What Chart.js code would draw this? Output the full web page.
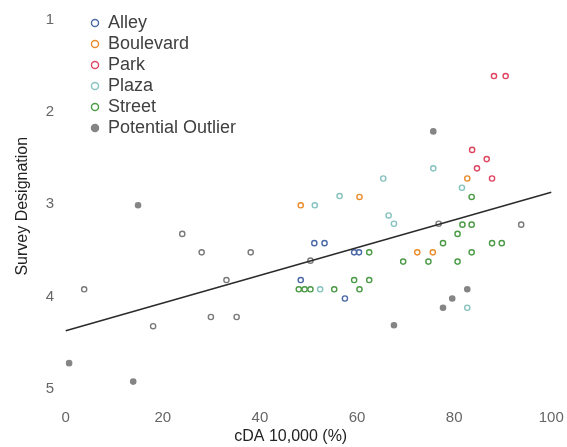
<!DOCTYPE html>
<html>
<head>
    <title>Survey Designation vs cDA</title>
    <script src="https://cdn.jsdelivr.net/npm/chart.js@4.4.1/dist/chart.umd.min.js"></script>
    <style>
        body { margin: 0; background: #fff; }
        #wrap { width: 567px; height: 447px; }
    </style>
</head>
<body>
    <div id="wrap"><canvas id="chart" width="567" height="447"></canvas></div>

    <script>
        // points are [cDA %, survey designation]
        const alley = [[48.4, 3.82], [51.2, 3.42], [53.3, 3.42], [59.4, 3.52], [60.4, 3.52], [57.5, 4.02]];
        const boulevard = [[82.7, 2.72], [48.4, 3.01], [60.5, 2.92], [72.4, 3.52], [75.6, 3.52]];
        const park = [[88.2, 1.61], [90.6, 1.61], [83.7, 2.41], [86.7, 2.51], [84.7, 2.61], [87.8, 2.72]];
        const plaza = [[81.6, 2.82], [51.3, 3.01], [56.4, 2.91], [65.4, 2.72], [66.5, 3.12], [67.6, 3.21],
                       [75.7, 2.61], [52.4, 3.92], [82.7, 4.12]];
        const street = [[62.5, 3.52], [48.0, 3.92], [49.2, 3.92], [50.4, 3.92], [55.3, 3.92], [60.5, 3.92],
                        [59.4, 3.82], [62.5, 3.82], [69.5, 3.62], [83.6, 2.92], [81.7, 3.22], [83.6, 3.22],
                        [80.7, 3.32], [77.7, 3.42], [87.8, 3.42], [89.8, 3.42], [83.6, 3.52], [74.7, 3.62],
                        [80.7, 3.62]];
        const outlier = [[14.9, 3.01], [75.7, 2.21], [0.7, 4.72], [13.9, 4.92], [67.6, 4.31], [82.7, 3.92],
                         [79.6, 4.02], [77.7, 4.12]];
        const other = [[3.8, 3.92], [18.0, 4.32], [24.0, 3.32], [28.0, 3.52], [38.1, 3.52], [33.1, 3.82],
                       [29.9, 4.22], [35.2, 4.22], [93.8, 3.22], [76.8, 3.21], [50.4, 3.61]];
        const fitX = [0, 100];
        const fitY = [4.37, 2.87];
        const xTicks = [0, 20, 40, 60, 80, 100];
        const yTicks = [1, 2, 3, 4, 5];

        const font = 'Liberation Sans, Arial, sans-serif';
        const toXY = arr => arr.map(p => ({x: p[0], y: p[1]}));

        function pointSet(label, data, color, filled) {
            return {
                label: label,
                data: toXY(data),
                pointStyle: 'circle',
                pointRadius: 2.6,
                pointBorderWidth: 1.4,
                pointBorderColor: color,
                pointBackgroundColor: filled ? color : 'rgba(0,0,0,0)',
                borderColor: color,
                backgroundColor: filled ? color : 'rgba(0,0,0,0)'
            };
        }

        // move the legend into the top-left corner of the plot
        const legendNudge = {
            id: 'legendNudge',
            afterLayout(chart) {
                chart.legend.left = 88;
                chart.legend.top = 11;
            }
        };

        new Chart(document.getElementById('chart'), {
            type: 'scatter',
            data: {
                datasets: [
                    {
                        label: 'fit',
                        type: 'line',
                        data: fitX.map((x, i) => ({x: x, y: fitY[i]})),
                        borderColor: '#2b2b2b',
                        borderWidth: 1.6,
                        pointRadius: 0,
                        fill: false
                    },
                    pointSet('other', other, '#7a7a7a', false),
                    pointSet('Alley', alley, '#4a68a8', false),
                    pointSet('Boulevard', boulevard, '#ea8c2c', false),
                    pointSet('Park', park, '#de4560', false),
                    pointSet('Plaza', plaza, '#86c2bf', false),
                    pointSet('Street', street, '#4b9a45', false),
                    pointSet('Potential Outlier', outlier, '#858585', true)
                ]
            },
            options: {
                responsive: false,
                animation: false,
                layout: { padding: { left: 0, right: 6, top: 0, bottom: 0 } },
                plugins: {
                    tooltip: { enabled: false },
                    legend: {
                        position: 'chartArea',
                        align: 'start',
                        labels: {
                            usePointStyle: true,
                            boxWidth: 8,
                            boxHeight: 5,
                            padding: 3,
                            color: '#404040',
                            font: { family: font, size: 18 },
                            filter: item => item.text !== 'fit' && item.text !== 'other'
                        },
                        onClick: null
                    }
                },
                scales: {
                    x: {
                        type: 'linear',
                        min: -2,
                        max: 102,
                        afterBuildTicks: s => { s.ticks = xTicks.map(v => ({value: v})); },
                        afterFit: s => { s.height = 40; },
                        grid: { display: false, drawTicks: false },
                        border: { display: false },
                        ticks: { color: '#666', font: { family: font, size: 15 }, padding: 2 },
                        title: {
                            display: true,
                            // trailing spaces pull the centred title a little left, as in the original
                            text: 'cDA 10,000 (%)\u00a0\u00a0\u00a0\u00a0\u00a0\u00a0\u00a0\u00a0',
                            color: '#222',
                            font: { family: font, size: 16 },
                            padding: { top: 0, bottom: 1 }
                        }
                    },
                    y: {
                        type: 'linear',
                        reverse: true,
                        min: 0.845,
                        max: 5.195,
                        afterBuildTicks: s => { s.ticks = yTicks.map(v => ({value: v})); },
                        afterFit: s => {
                            s.width = 56;
                            s.paddingTop = 0;
                            s.paddingBottom = 0;
                        },
                        grid: { display: false, drawTicks: false },
                        border: { display: false },
                        ticks: { color: '#666', font: { family: font, size: 15 }, padding: 2 },
                        title: {
                            display: true,
                            text: 'Survey Designation',
                            color: '#222',
                            font: { family: font, size: 16 },
                            padding: { top: 13, bottom: 0 }
                        }
                    }
                }
            },
            plugins: [legendNudge]
        });
    </script>
</body>
</html>
